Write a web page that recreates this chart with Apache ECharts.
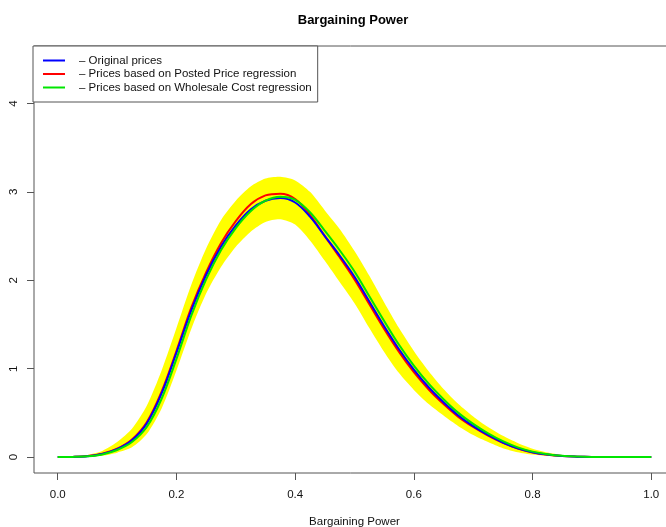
<!DOCTYPE html>
<html>
<head>
<meta charset="utf-8">
<script src="https://cdn.jsdelivr.net/npm/echarts@6/dist/echarts.min.js"></script>
<style>html,body{margin:0;padding:0;background:#fff}#c{width:666px;height:527px}</style>
</head>
<body>
<div id="c"></div>
<script>
var xs =        [0.000,0.025,0.050,0.075,0.100,0.125,0.150,0.175,0.200,0.225,0.250,0.275,0.300,0.325,0.350,0.375,0.400,0.425,0.450,0.475,0.500,0.525,0.550,0.575,0.600,0.625,0.650,0.675,0.700,0.725,0.750,0.775,0.800,0.825,0.850,0.875,0.900,0.925,0.950,0.975,1.000];
var original =  [0,0.002,0.010,0.035,0.090,0.190,0.380,0.720,1.180,1.660,2.060,2.380,2.620,2.800,2.900,2.930,2.880,2.720,2.500,2.280,2.040,1.760,1.480,1.220,0.990,0.790,0.620,0.470,0.350,0.250,0.165,0.100,0.055,0.028,0.012,0.005,0.001,0,0,0,0];
var posted =    [0,0.002,0.011,0.037,0.095,0.200,0.395,0.740,1.200,1.690,2.090,2.420,2.670,2.860,2.960,2.980,2.920,2.740,2.500,2.260,2.010,1.730,1.450,1.190,0.960,0.765,0.600,0.455,0.340,0.242,0.160,0.097,0.053,0.027,0.012,0.005,0.001,0,0,0,0];
var wholesale = [0,0.002,0.009,0.030,0.080,0.170,0.340,0.660,1.110,1.600,2.010,2.340,2.590,2.780,2.900,2.945,2.910,2.770,2.560,2.340,2.100,1.820,1.540,1.270,1.035,0.830,0.655,0.500,0.375,0.268,0.180,0.110,0.062,0.032,0.014,0.006,0.002,0,0,0,0];
var bandUpper = [0,0.006,0.025,0.070,0.170,0.320,0.580,0.980,1.460,1.950,2.360,2.680,2.900,3.060,3.150,3.170,3.130,3.000,2.790,2.580,2.330,2.050,1.750,1.460,1.200,0.970,0.770,0.600,0.460,0.340,0.240,0.160,0.095,0.052,0.025,0.010,0.003,0,0,0,0];
var bandLower = [0,0,0.003,0.015,0.050,0.110,0.260,0.550,0.980,1.450,1.850,2.150,2.380,2.550,2.660,2.690,2.630,2.450,2.220,1.980,1.740,1.460,1.190,0.950,0.760,0.600,0.470,0.350,0.250,0.170,0.100,0.055,0.028,0.012,0.004,0,0,0,0,0,0];
var xTicks = [0, 0.2, 0.4, 0.6, 0.8, 1.0];
var yTicks = [0, 1, 2, 3, 4];
var names = ['Original prices', 'Prices based on Posted Price regression', 'Prices based on Wholesale Cost regression'];

function pairs(arr){ return xs.map(function(x,i){ return [x, arr[i]]; }); }

var FONT = 'Liberation Sans';
var chart = echarts.init(document.getElementById('c'), null, {renderer:'canvas'});
var lineCommon = { type:'line', showSymbol:false, symbol:'none', smooth:0.35, animation:false };
chart.setOption({
  animation:false,
  backgroundColor:'#ffffff',
  title:{ text:'Bargaining Power', left:348, top:9, textAlign:'center',
    textStyle:{ fontFamily:FONT, fontSize:13, fontWeight:'bold', color:'#000' } },
  legend:{
    data:names, orient:'vertical', left:33, top:46,
    padding:[7.75,6,7.75,10], itemGap:0, itemWidth:22, itemHeight:2, icon:'rect',
    backgroundColor:'#fff', borderColor:'#555', borderWidth:1,
    formatter:function(n){ return '\u2013 ' + n; },
    textStyle:{ fontFamily:FONT, fontSize:11.5, lineHeight:13.5, color:'#111', padding:[0,0,0,9] },
    selectedMode:false
  },
  grid:{ left:34, top:46, width:641, height:427, show:true, borderColor:'#555', borderWidth:1,
    backgroundColor:'transparent', containLabel:false, outerBoundsMode:'none' },
  xAxis:{ type:'value', min:-0.04, max:1.04,
    name:'Bargaining Power', nameLocation:'middle', nameGap:43,
    nameTextStyle:{ fontFamily:FONT, fontSize:11.5, color:'#111' },
    axisLine:{ show:false, onZero:false },
    axisTick:{ show:true, length:7, customValues:xTicks, lineStyle:{ color:'#555' } },
    axisLabel:{ customValues:xTicks, margin:16, fontFamily:FONT, fontSize:11.5, color:'#111',
      formatter:function(v){ return v.toFixed(1); } },
    splitLine:{ show:false } },
  yAxis:{ type:'value', min:-0.18, max:4.65,
    axisLine:{ show:false, onZero:false },
    axisTick:{ show:true, length:7, customValues:yTicks, lineStyle:{ color:'#555' } },
    axisLabel:{ customValues:yTicks, margin:14, rotate:90, fontFamily:FONT, fontSize:11.5, color:'#111' },
    splitLine:{ show:false } },
  series:[
    { type:'custom', name:'band', silent:true, z:1, data:[[0,0]],
      renderItem:function(params, api){
        var pts = [], i;
        for (i = 0; i < xs.length; i++) pts.push(api.coord([xs[i], bandUpper[i]]));
        for (i = xs.length - 1; i >= 0; i--) pts.push(api.coord([xs[i], bandLower[i]]));
        return { type:'polygon', shape:{ points:pts, smooth:0.25 }, style:{ fill:'#ffff00', stroke:null } };
      } },
    Object.assign({}, lineCommon, { name:names[1], data:pairs(posted), lineStyle:{ color:'#ff0000', width:2 }, itemStyle:{ color:'#ff0000' }, z:2 }),
    Object.assign({}, lineCommon, { name:names[0], data:pairs(original), lineStyle:{ color:'#0000ff', width:2 }, itemStyle:{ color:'#0000ff' }, z:3 }),
    Object.assign({}, lineCommon, { name:names[2], data:pairs(wholesale), lineStyle:{ color:'#00e600', width:2 }, itemStyle:{ color:'#00e600' }, z:4 })
  ]
});
</script>
</body>
</html>
